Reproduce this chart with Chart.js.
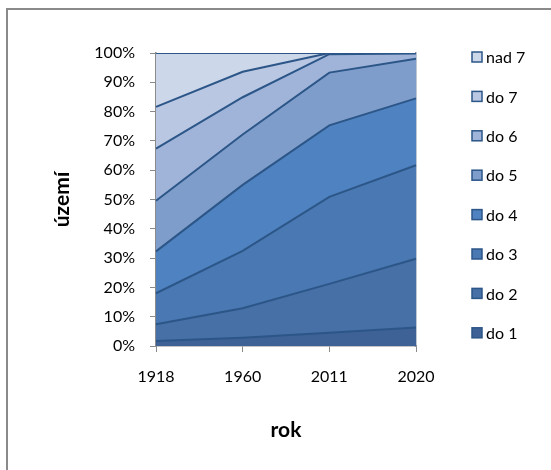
<!DOCTYPE html>
<html>
<head>
<meta charset="utf-8">
<script src="https://cdn.jsdelivr.net/npm/chart.js@4/dist/chart.umd.min.js"></script>
<style>
  html, body { margin: 0; padding: 0; background: #fff; }
  #wrap { position: relative; width: 551px; height: 470px; overflow: hidden; }
  #frame { position: absolute; left: 6px; top: 8px; width: 600px; height: 520px;
           border-left: 2px solid #8a8a8a; border-top: 2px solid #8a8a8a; box-sizing: border-box; }
  canvas { position: absolute; left: 0; top: 0; }
</style>
</head>
<body>
<div id="wrap">
  <div id="frame"></div>
  <canvas id="c" width="551" height="470"></canvas>
</div>
<script>
// Years on the category axis
const years = ['1918', '1960', '2011', '2020'];

// Share of territory (%) in each class, per year
const do1  = [1.7, 2.8, 4.5, 6.3];
const do2  = [5.7, 10.1, 16.7, 23.5];
const do3  = [10.6, 19.6, 29.7, 31.9];
const do4  = [14.3, 22.5, 24.4, 22.8];
const do5  = [17.3, 17.2, 18.0, 13.5];
const do6  = [17.8, 12.7, 6.3, 1.8];
const do7  = [14.2, 8.7, 0.4, 0.2];
const nad7 = [18.4, 6.4, 0.0, 0.0];

const seriesNames = ['do 1', 'do 2', 'do 3', 'do 4', 'do 5', 'do 6', 'do 7', 'nad 7'];
const seriesData  = [do1, do2, do3, do4, do5, do6, do7, nad7];
const fills = ['#3f6296', '#4670a6', '#4978b2', '#4f82c0', '#7e9dcb', '#a0b4d9', '#b9c7e2', '#cdd7ea'];
const lineColor = '#2c5688';

const FONT = 'Lato, "Noto Sans", sans-serif';

const datasets = seriesData.map((d, i) => ({
  label: seriesNames[i],
  data: d,
  backgroundColor: fills[i],
  borderColor: lineColor,
  borderWidth: 2,
  pointRadius: 0,
  pointHoverRadius: 0,
  tension: 0,
  fill: i === 0 ? 'origin' : '-1'
}));

// Legend on the right, top entry = top band
const sideLegend = {
  id: 'sideLegend',
  afterDraw(chart) {
    const ctx = chart.ctx;
    const ds = chart.data.datasets;
    const x0 = 472, y0 = 57, step = 39.4;
    ctx.save();
    ctx.font = '16px ' + FONT;
    ctx.textBaseline = 'middle';
    ctx.textAlign = 'left';
    for (let k = 0; k < ds.length; k++) {
      const d = ds[ds.length - 1 - k];
      const y = y0 + k * step;
      ctx.fillStyle = d.backgroundColor;
      ctx.fillRect(x0, y - 5, 10, 10);
      ctx.strokeStyle = lineColor;
      ctx.lineWidth = 1.5;
      ctx.strokeRect(x0, y - 5, 10, 10);
      ctx.fillStyle = '#000';
      ctx.fillText(d.label, x0 + 14, y + 1);
    }
    ctx.restore();
  }
};

new Chart(document.getElementById('c'), {
  type: 'line',
  data: { labels: years, datasets },
  plugins: [sideLegend],
  options: {
    responsive: false,
    animation: false,
    events: [],
    layout: { padding: { left: 0, top: 53, right: 135, bottom: 0 } },
    plugins: { legend: { display: false }, tooltip: { enabled: false } },
    scales: {
      x: {
        type: 'category',
        offset: false,
        afterFit(s) { s.height = 124; },
        grid: { drawOnChartArea: false, drawTicks: true, tickLength: 6, color: '#8a8a8a' },
        border: { color: '#8a8a8a', width: 1.5 },
        ticks: { color: '#000', font: { family: FONT, size: 16 }, padding: 15, maxRotation: 0 },
        title: { display: true, text: 'rok', color: '#000',
                 font: { family: FONT, size: 21, weight: 'bold' }, padding: { top: 0, bottom: 27 } }
      },
      y: {
        stacked: true,
        min: 0, max: 100,
        afterFit(s) { s.width = 156; },
        grid: { drawOnChartArea: false, drawTicks: true, tickLength: 6, color: '#8a8a8a' },
        border: { color: '#8a8a8a', width: 1.5 },
        ticks: { stepSize: 10, color: '#000', font: { family: FONT, size: 16 }, padding: 15,
                 callback: v => v + '%' },
        title: { display: true, text: 'území', color: '#000',
                 font: { family: FONT, size: 21, weight: 'bold' }, padding: { top: 50, bottom: 0 } }
      },
      yEdge: {
        position: 'right',
        min: 0, max: 100,
        afterFit(s) { s.width = 0; },
        grid: { drawOnChartArea: false, drawTicks: false },
        border: { color: '#7f90a8', width: 1.5 },
        ticks: { display: false }
      }
    }
  }
});
</script>
</body>
</html>
